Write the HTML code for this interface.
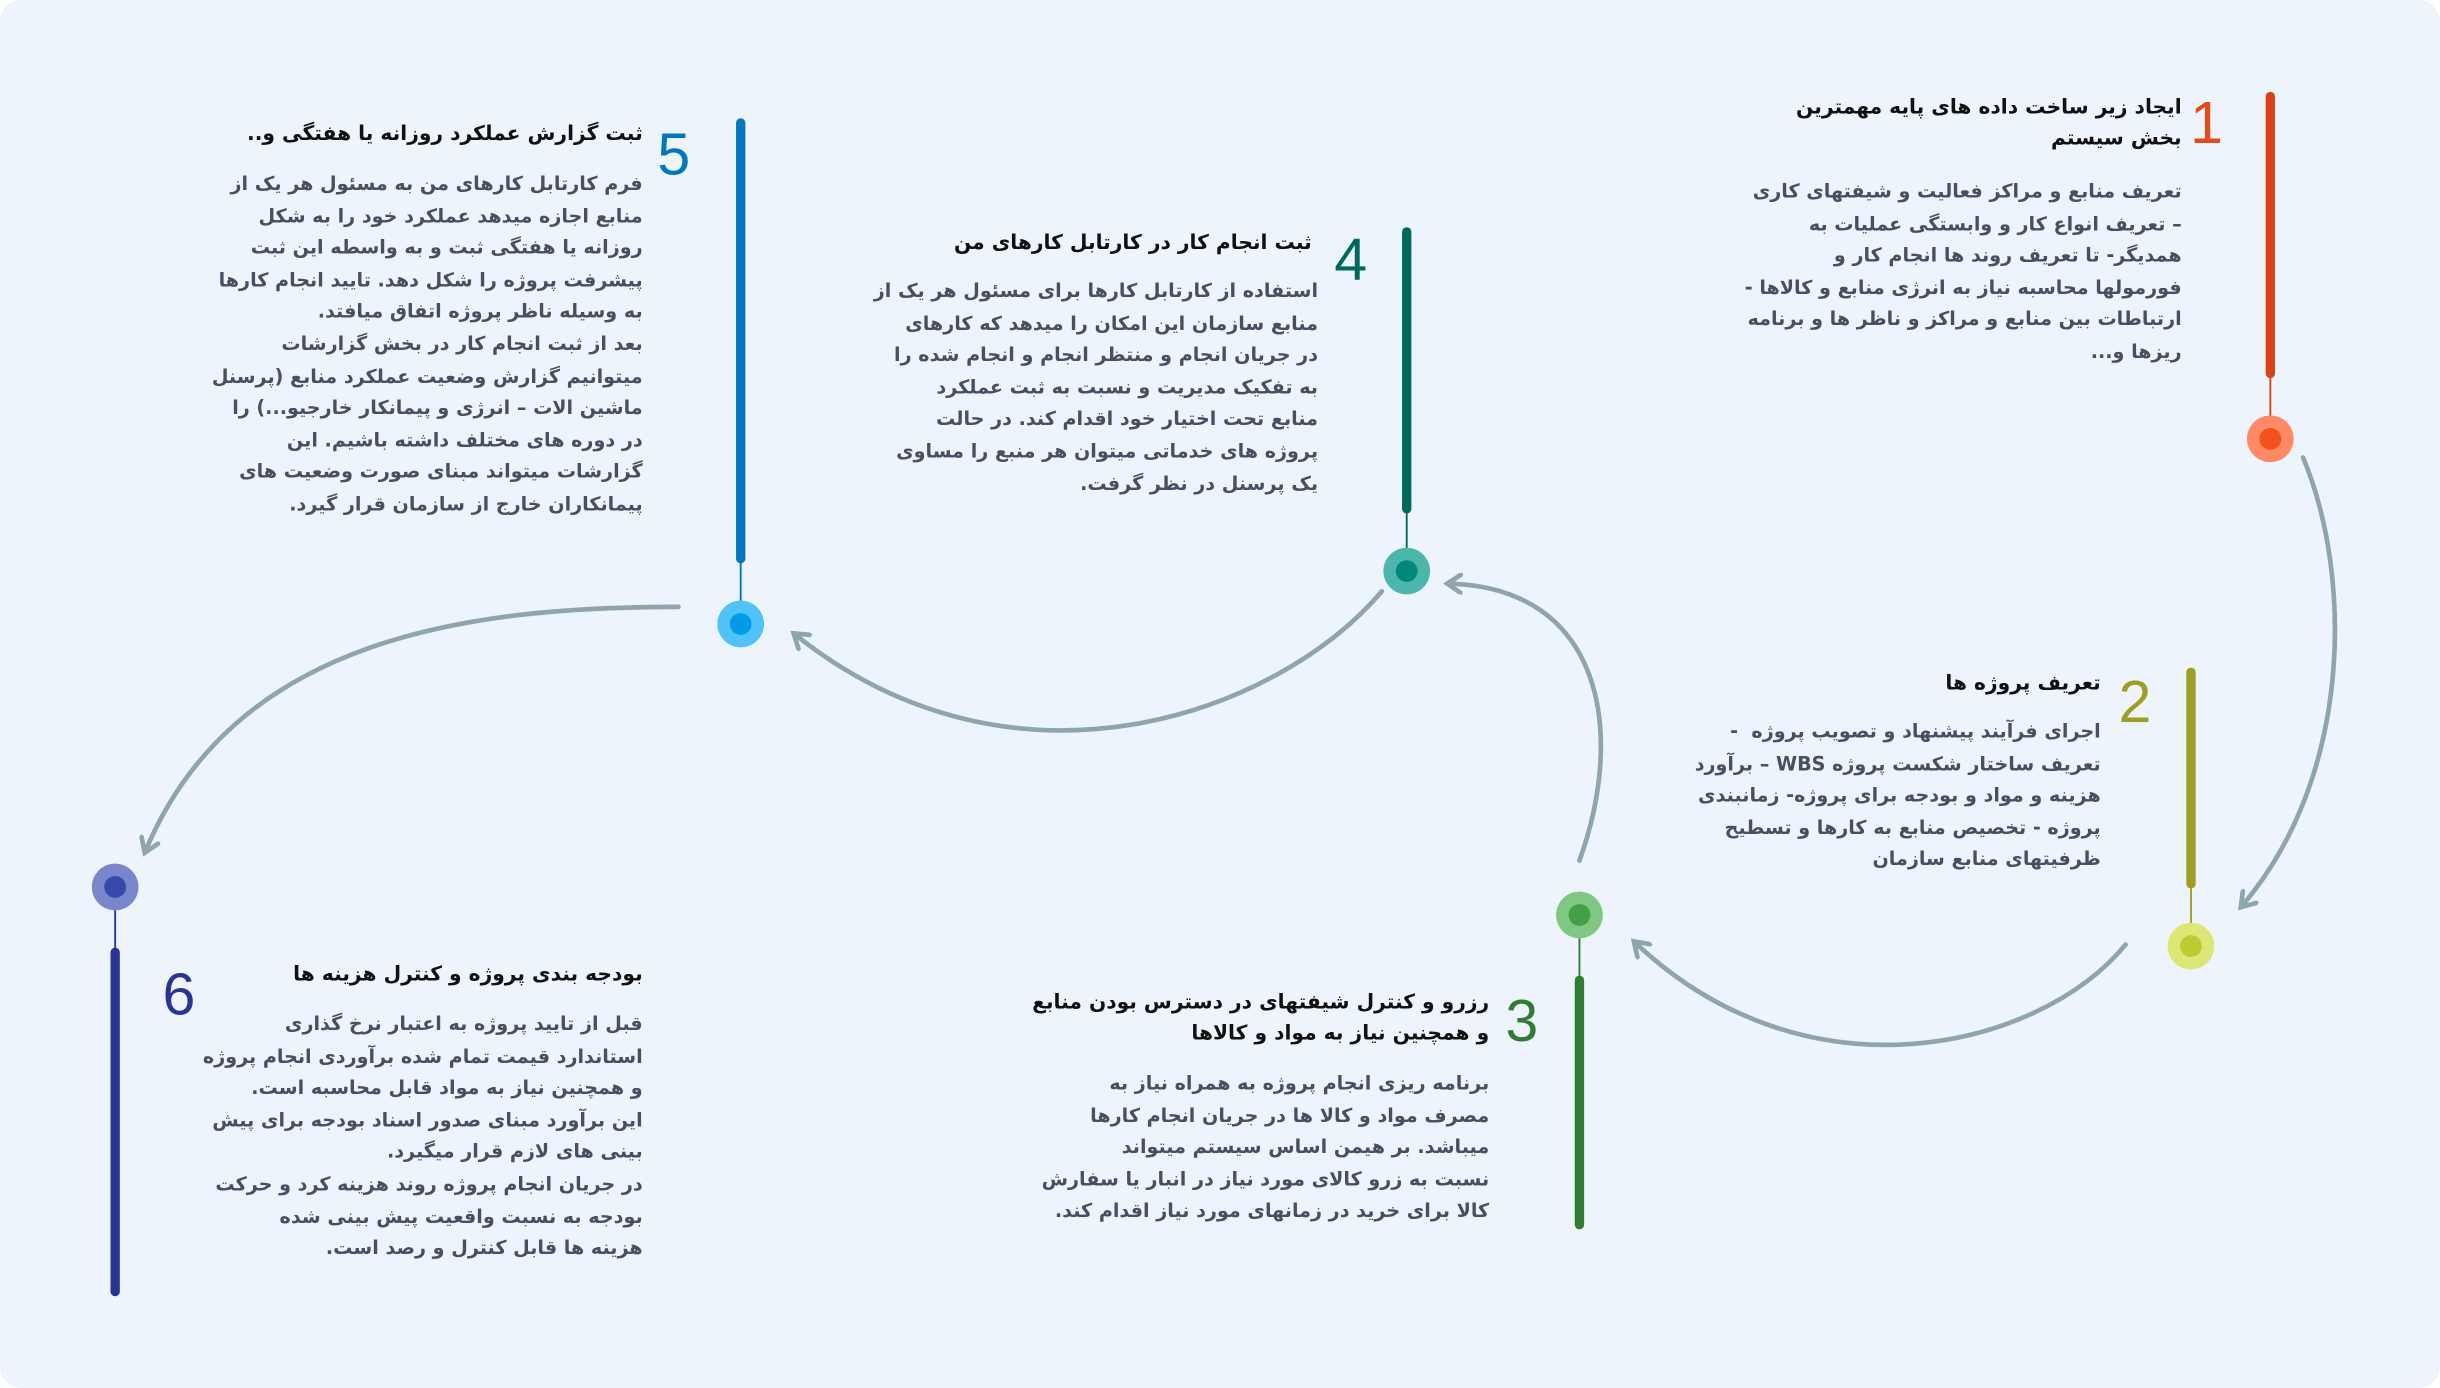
<!DOCTYPE html>
<html><head><meta charset="utf-8">
<style>
html,body{margin:0;padding:0;background:#fff;}
body{width:2440px;height:1388px;overflow:hidden;}
#s{position:absolute;left:0;top:0;width:1568px;height:892px;transform:scale(1.5561);transform-origin:0 0;background:#eef4fb;border-radius:14px;}
.t{position:absolute;direction:rtl;text-align:right;white-space:nowrap;font-family:"DejaVu Sans",sans-serif;}
.h{font-size:13px;font-weight:bold;color:#111;line-height:20px;}
.b{font-size:12.3px;color:#465063;line-height:20.6px;font-weight:bold;}
.n{position:absolute;font-family:"Liberation Sans",sans-serif;font-size:38px;line-height:38px;transform:translate(-50%,-50%);}
svg{position:absolute;left:0;top:0;}
</style></head><body>
<div id="s">
<svg width="1568" height="892" viewBox="0 0 1568 892">
<defs><marker id="a" markerWidth="14" markerHeight="14" refX="10" refY="7" orient="auto" markerUnits="userSpaceOnUse"><path d="M1,1 L10,7 L1,13" fill="none" stroke="#90a4ae" stroke-width="3" stroke-linecap="round"/></marker></defs>
<g fill="none" stroke="#90a4ae" stroke-width="3" stroke-linecap="round">
<path d="M1480,294 C1512,370 1512,500 1440,583" marker-end="url(#a)"/>
<path d="M1366,607 C1310,675 1160,710 1050,605" marker-end="url(#a)"/>
<path d="M1015,553 C1045,470 1030,377 930,375" marker-end="url(#a)"/>
<path d="M888,380 C820,460 650,520 510,407" marker-end="url(#a)"/>
<path d="M436,390 C300,390 150,410 93,548" marker-end="url(#a)"/>
</g>
<line x1="1459" y1="62" x2="1459" y2="240" stroke="#d84315" stroke-width="6" stroke-linecap="round"/>
<line x1="1459" y1="240" x2="1459" y2="268" stroke="#d84315" stroke-width="1.2"/>
<circle cx="1459" cy="282" r="15" fill="#ff8a65"/><circle cx="1459" cy="282" r="7" fill="#f4511e"/>
<line x1="1408" y1="432" x2="1408" y2="568" stroke="#9e9d24" stroke-width="6" stroke-linecap="round"/>
<line x1="1408" y1="568" x2="1408" y2="594" stroke="#9e9d24" stroke-width="1.2"/>
<circle cx="1408" cy="608" r="15" fill="#dce775"/><circle cx="1408" cy="608" r="7" fill="#c0ca33"/>
<line x1="1015" y1="630" x2="1015" y2="787" stroke="#2e7d32" stroke-width="6" stroke-linecap="round"/>
<line x1="1015" y1="602" x2="1015" y2="630" stroke="#2e7d32" stroke-width="1.2"/>
<circle cx="1015" cy="588" r="15" fill="#81c784"/><circle cx="1015" cy="588" r="7" fill="#43a047"/>
<line x1="904" y1="149" x2="904" y2="327" stroke="#00695c" stroke-width="6" stroke-linecap="round"/>
<line x1="904" y1="327" x2="904" y2="353" stroke="#00695c" stroke-width="1.2"/>
<circle cx="904" cy="367" r="15" fill="#4db6ac"/><circle cx="904" cy="367" r="7" fill="#00897b"/>
<line x1="476" y1="79" x2="476" y2="359" stroke="#0277bd" stroke-width="6" stroke-linecap="round"/>
<line x1="476" y1="359" x2="476" y2="387" stroke="#0277bd" stroke-width="1.2"/>
<circle cx="476" cy="401" r="15" fill="#4fc3f7"/><circle cx="476" cy="401" r="7" fill="#039be5"/>
<line x1="74" y1="612" x2="74" y2="830" stroke="#283593" stroke-width="6" stroke-linecap="round"/>
<line x1="74" y1="584" x2="74" y2="612" stroke="#283593" stroke-width="1.2"/>
<circle cx="74" cy="570" r="15" fill="#7986cb"/><circle cx="74" cy="570" r="7" fill="#3949ab"/>
</svg>

<div class="n" style="left:1418px;top:80px;color:#e64a19">1</div>
<div class="n" style="left:1372px;top:452px;color:#9e9d24">2</div>
<div class="n" style="left:978px;top:657px;color:#2e7d32">3</div>
<div class="n" style="left:868px;top:168px;color:#00695c">4</div>
<div class="n" style="left:433px;top:100px;color:#0277bd">5</div>
<div class="n" style="left:115px;top:640px;color:#283593">6</div>

<div class="t h" style="right:166px;top:60px">ایجاد زیر ساخت داده های پایه مهمترین<br>بخش سیستم</div>
<div class="t b" style="right:166px;top:113px">تعریف منابع و مراکز فعالیت و شیفتهای کاری<br>– تعریف انواع کار و وابستگی عملیات به<br>همدیگر- تا تعریف روند ها انجام کار و<br>فورمولها محاسبه نیاز به انرژی منابع و کالاها -<br>ارتباطات بین منابع و مراکز و ناظر ها و برنامه<br>ریزها و...</div>

<div class="t h" style="right:218px;top:430px">تعریف پروژه ها</div>
<div class="t b" style="right:218px;top:460px">اجرای فرآیند پیشنهاد و تصویب پروژه&nbsp; -<br>تعریف ساختار شکست پروژه WBS – برآورد<br>هزینه و مواد و بودجه برای پروژه- زمانبندی<br>پروژه - تخصیص منابع به کارها و تسطیح<br>ظرفیتهای منابع سازمان</div>

<div class="t h" style="right:611px;top:635px">رزرو و کنترل شیفتهای در دسترس بودن منابع<br>و همچنین نیاز به مواد و کالاها</div>
<div class="t b" style="right:611px;top:686px">برنامه ریزی انجام پروژه به همراه نیاز به<br>مصرف مواد و کالا ها در جریان انجام کارها<br>میباشد. بر هیمن اساس سیستم میتواند<br>نسبت به زرو کالای مورد نیاز در انبار یا سفارش<br>کالا برای خرید در زمانهای مورد نیاز اقدام کند.</div>

<div class="t h" style="right:725px;top:147px">ثبت انجام کار در کارتابل کارهای من</div>
<div class="t b" style="right:721px;top:177px">استفاده از کارتابل کارها برای مسئول هر یک از<br>منابع سازمان این امکان را میدهد که کارهای<br>در جریان انجام و منتظر انجام و انجام شده را<br>به تفکیک مدیریت و نسبت به ثبت عملکرد<br>منابع تحت اختیار خود اقدام کند. در حالت<br>پروژه های خدماتی میتوان هر منبع را مساوی<br>یک پرسنل در نظر گرفت.</div>

<div class="t h" style="right:1155px;top:77px">ثبت گزارش عملکرد روزانه یا هفتگی و..</div>
<div class="t b" style="right:1155px;top:108px">فرم کارتابل کارهای من به مسئول هر یک از<br>منابع اجازه میدهد عملکرد خود را به شکل<br>روزانه یا هفتگی ثبت و به واسطه این ثبت<br>پیشرفت پروژه را شکل دهد. تایید انجام کارها<br>به وسیله ناظر پروژه اتفاق میافتد.<br>بعد از ثبت انجام کار در بخش گزارشات<br>میتوانیم گزارش وضعیت عملکرد منابع (پرسنل<br>ماشین الات – انرژی و پیمانکار خارجیو...) را<br>در دوره های مختلف داشته باشیم. این<br>گزارشات میتواند مبنای صورت وضعیت های<br>پیمانکاران خارج از سازمان قرار گیرد.</div>

<div class="t h" style="right:1155px;top:617px">بودجه بندی پروژه و کنترل هزینه ها</div>
<div class="t b" style="right:1155px;top:648px">قبل از تایید پروژه به اعتبار نرخ گذاری<br>استاندارد قیمت تمام شده برآوردی انجام پروژه<br>و همچنین نیاز به مواد قابل محاسبه است.<br>این برآورد مبنای صدور اسناد بودجه برای پیش<br>بینی های لازم قرار میگیرد.<br>در جریان انجام پروژه روند هزینه کرد و حرکت<br>بودجه به نسبت واقعیت پیش بینی شده<br>هزینه ها قابل کنترل و رصد است.</div>
</div>
</body></html>
